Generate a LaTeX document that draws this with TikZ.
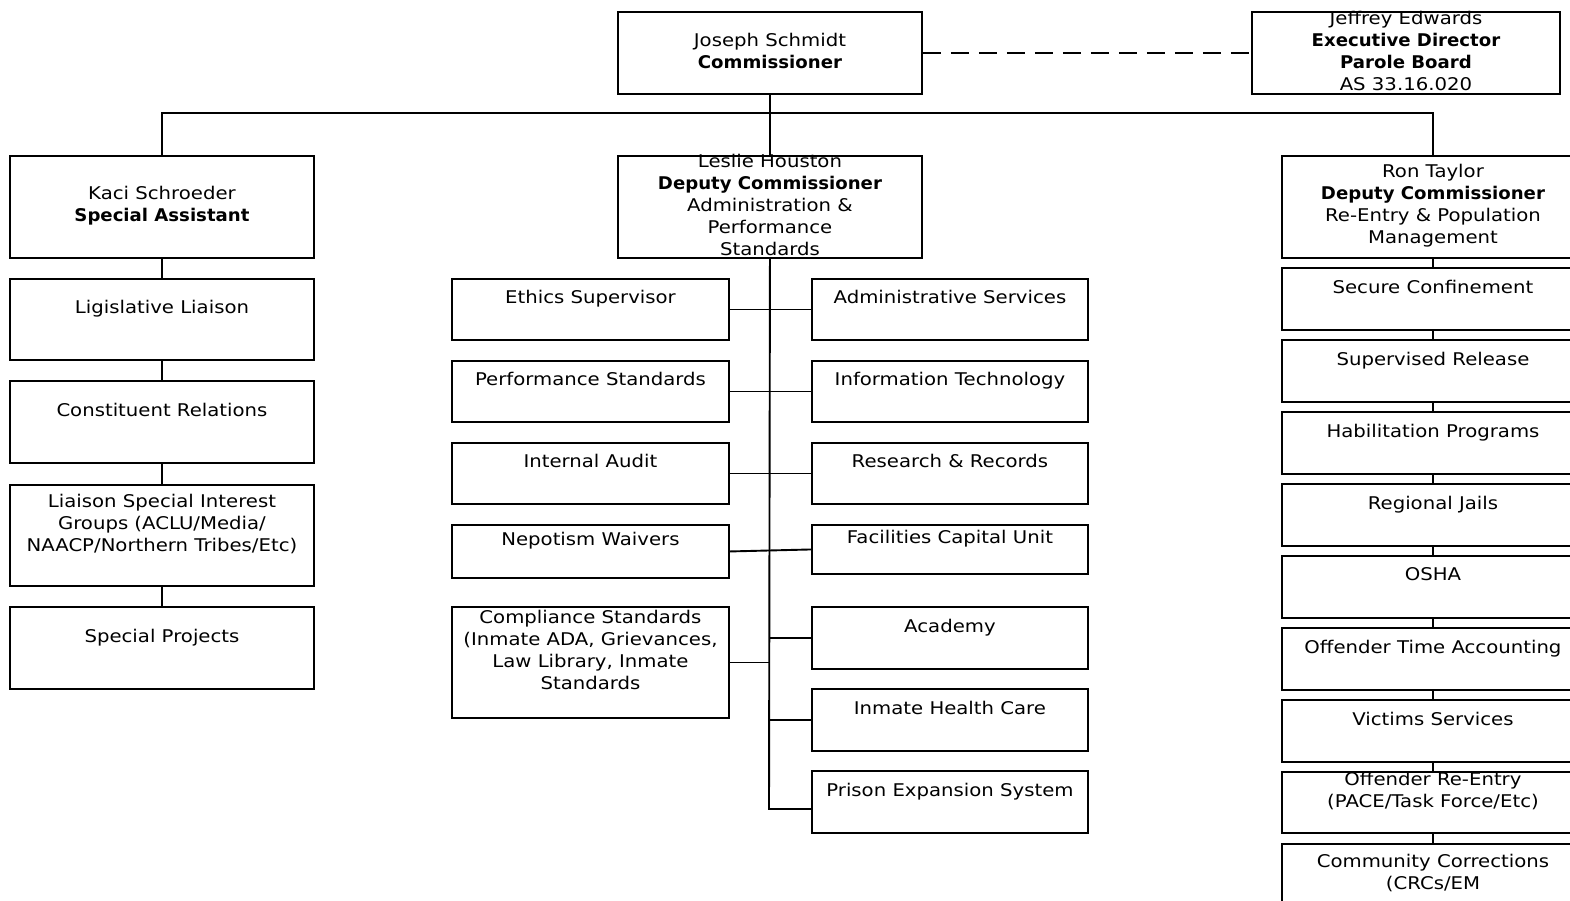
\documentclass[tikz,border=0pt]{standalone}
\usepackage{fontspec}
\setmainfont{DejaVu Sans}[FakeStretch=1.125, BoldFeatures={FakeStretch=1.035}]
\begin{document}
\begin{tikzpicture}[x=1pt,y=-1pt,
  bx/.style={draw, line width=1.9pt, inner sep=0pt, anchor=north west},
  txt/.style={font=\fontsize{17.5}{22}\selectfont, align=center, inner sep=0pt, yshift=1.5pt},
  conn/.style={line width=1.9pt},
  dashconn/.style={line width=1.9pt, dash pattern=on 18pt off 10pt}]
\path[use as bounding box, clip] (0,0) rectangle (1570,900);
\newcommand\orgbox[6]{\node[bx, minimum width={#4-#2}, minimum height={#5-#3}, label={[txt]center:{#6}}] (#1) at (#2,#3) {};}
% top level
\orgbox{comm}{617}{11}{921}{93}{Joseph Schmidt\\\textbf{Commissioner}}
\orgbox{parole}{1251}{11}{1559}{93}{Jeffrey Edwards\\\textbf{Executive Director}\\\textbf{Parole Board}\\AS 33.16.020}
\orgbox{kaci}{9}{155}{313}{257}{Kaci Schroeder\\\textbf{Special Assistant}}
\orgbox{leslie}{617}{155}{921}{257}{Leslie Houston\\\textbf{Deputy Commissioner}\\Administration \&\\Performance\\Standards}
\orgbox{ron}{1281}{155}{1583}{257}{Ron Taylor\\\textbf{Deputy Commissioner}\\Re-Entry \& Population\\Management}
% left column
\orgbox{lig}{9}{278}{313}{359}{Ligislative Liaison\\\mbox{}}
\orgbox{const}{9}{380}{313}{462}{Constituent Relations\\\mbox{}}
\orgbox{liaison}{9}{484}{313}{585}{Liaison Special Interest\\Groups (ACLU/Media/\\NAACP/Northern Tribes/Etc)\\\mbox{}}
\orgbox{spec}{9}{606}{313}{688}{Special Projects\\\mbox{}}
% middle left
\orgbox{ethics}{451}{278}{728}{339}{Ethics Supervisor\\\mbox{}}
\orgbox{perf}{451}{360}{728}{421}{Performance Standards\\\mbox{}}
\orgbox{audit}{451}{442}{728}{503}{Internal Audit\\\mbox{}}
\orgbox{nepo}{451}{524}{728}{577}{Nepotism Waivers\\\mbox{}}
\orgbox{compl}{451}{606}{728}{717}{Compliance Standards\\(Inmate ADA, Grievances,\\Law Library, Inmate\\Standards\\\mbox{}}
% middle right
\orgbox{admin}{811}{278}{1087}{339}{Administrative Services\\\mbox{}}
\orgbox{itech}{811}{360}{1087}{421}{Information Technology\\\mbox{}}
\orgbox{rr}{811}{442}{1087}{503}{Research \& Records\\\mbox{}}
\orgbox{fac}{811}{524}{1087}{573}{Facilities Capital Unit\\\mbox{}}
\orgbox{acad}{811}{606}{1087}{668}{Academy\\\mbox{}}
\orgbox{ihc}{811}{688}{1087}{750}{Inmate Health Care\\\mbox{}}
\orgbox{pes}{811}{770}{1087}{832}{Prison Expansion System\\\mbox{}}
% right column
\orgbox{sc}{1281}{267}{1583}{329}{Secure Confinement\\\mbox{}}
\orgbox{sr}{1281}{339}{1583}{401}{Supervised Release\\\mbox{}}
\orgbox{hp}{1281}{411}{1583}{473}{Habilitation Programs\\\mbox{}}
\orgbox{rj}{1281}{483}{1583}{545}{Regional Jails\\\mbox{}}
\orgbox{osha}{1281}{555}{1583}{617}{OSHA\\\mbox{}}
\orgbox{ota}{1281}{627}{1583}{689}{Offender Time Accounting\\\mbox{}}
\orgbox{vs}{1281}{699}{1583}{761}{Victims Services\\\mbox{}}
\orgbox{ore}{1281}{771}{1583}{832}{Offender Re-Entry\\(PACE/Task Force/Etc)\\\mbox{}}
\orgbox{cc}{1281}{843}{1583}{923}{Community Corrections\\(CRCs/EM\\\mbox{}}
% connectors
\draw[dashconn] (comm.east) -- (parole.west);
\draw[conn] (comm.south) -- (leslie.north);
\coordinate (bus) at (769,113);
\draw[conn] (kaci.north) |- (bus) -| (ron.north);
\draw[conn] (kaci.south) -- (lig.north);
\draw[conn] (lig.south) -- (const.north);
\draw[conn] (const.south) -- (liaison.north);
\draw[conn] (liaison.south) -- (spec.north);
\coordinate (trunkend) at (769,809);
\draw[conn] (leslie.south) -- (trunkend) -- (trunkend -| pes.west);
\draw[conn] (ethics.east) -- (admin.west);
\draw[conn] (perf.east) -- (itech.west);
\draw[conn] (audit.east) -- (rr.west);
\draw[conn] (nepo.east) -- (fac.west);
\draw[conn] (compl.east) -- (compl.east -| trunkend);
\draw[conn] (acad.west) -- (acad.west -| trunkend);
\draw[conn] (ihc.west) -- (ihc.west -| trunkend);
\draw[conn] (ron.south) -- (sc.north);
\draw[conn] (sc.south) -- (sr.north);
\draw[conn] (sr.south) -- (hp.north);
\draw[conn] (hp.south) -- (rj.north);
\draw[conn] (rj.south) -- (osha.north);
\draw[conn] (osha.south) -- (ota.north);
\draw[conn] (ota.south) -- (vs.north);
\draw[conn] (vs.south) -- (ore.north);
\draw[conn] (ore.south) -- (cc.north);
\end{tikzpicture}
\end{document}
